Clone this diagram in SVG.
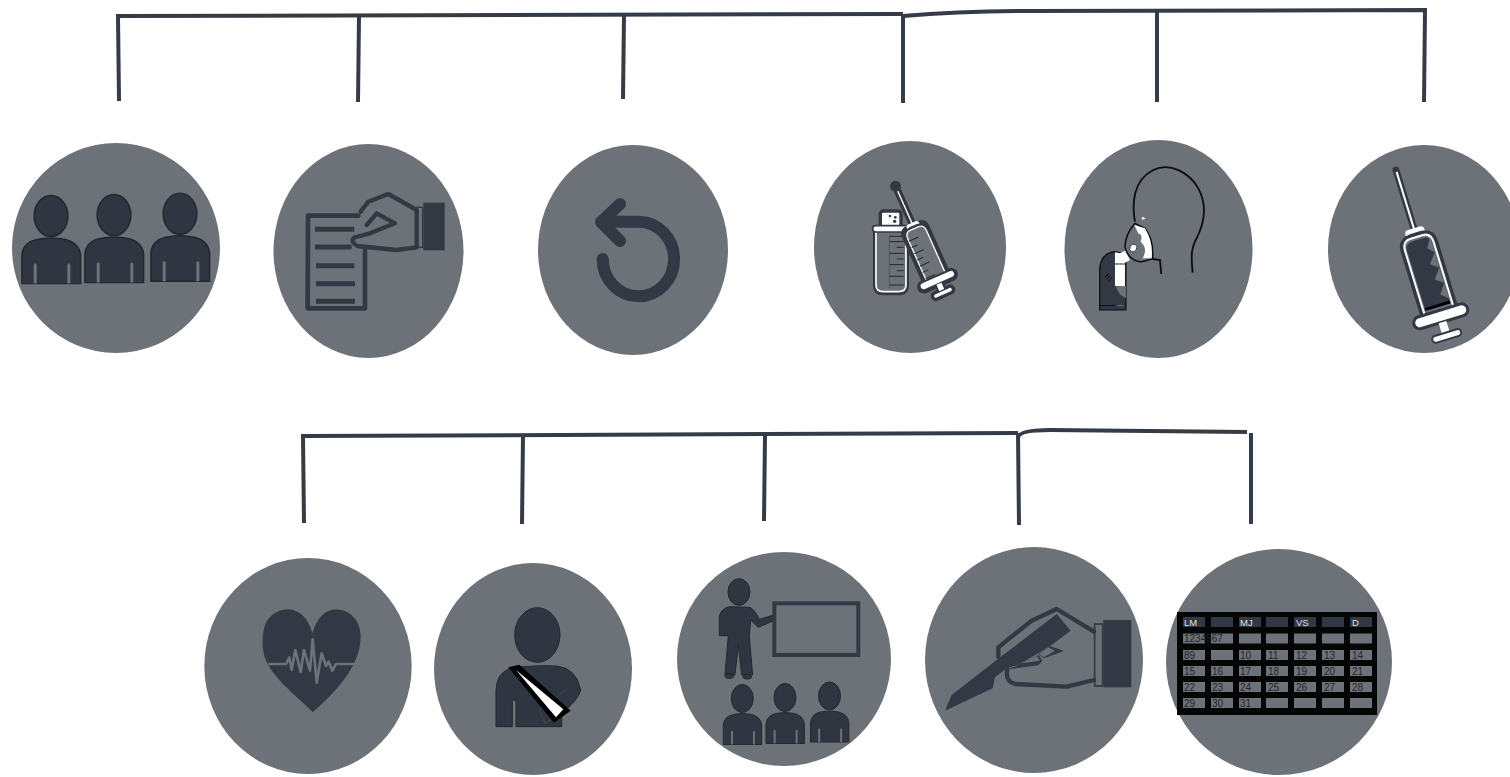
<svg xmlns="http://www.w3.org/2000/svg" width="1510" height="777" viewBox="0 0 1510 777">
<style>
.disc{fill:#6d7279}
.ln{fill:none;stroke:#363c47;stroke-width:4}
.d{fill:#323844}
.ds{fill:none;stroke:#323844;stroke-linejoin:round;stroke-linecap:round}
.pf{fill:#2f3541;stroke:#23272f;stroke-width:3}
.wt{fill:#fff}
.hd{fill:#323844}
.cl{fill:#6d7279}
text{font-family:"Liberation Sans",Arial,sans-serif;font-size:10px;fill:#1f2228}
.hdt{fill:#dfe1e3;font-size:9.5px}
</style>
<defs>
<g id="person">
<ellipse cx="0" cy="0" rx="33" ry="42" class="pf"/>
<path class="pf" d="M-57,138 L-57,80 Q-55,52 -22,47 Q0,43 22,47 Q55,52 58,80 L58,138 Z"/>
<path d="M-34,138V100Q-31,93 -28,100V138ZM32,138V100Q35,93 38,100V138Z" fill="#6d7279"/>
</g>
<g id="syr">
<path d="M0,0V65" stroke="#323844" stroke-width="7" stroke-linecap="round"/>
<path d="M0,2V65" stroke="#fff" stroke-width="2"/>
<rect x="-10" y="61" width="20" height="9" rx="4" fill="#fff"/>
<path d="M-17,149V80Q-17,69 -6,68H6Q17,69 17,80V149Z" fill="#6d7279" stroke="#323844" stroke-width="5"/>
<path d="M-15,149V80Q-15,70 -6,70H6Q15,70 15,80V149" fill="none" stroke="#fff" stroke-width="2"/>
<rect x="-28" y="147" width="56" height="12" rx="6" fill="#fff" stroke="#323844" stroke-width="3"/>
<rect x="-4" y="159" width="8" height="13" fill="#fff"/>
<rect x="-15" y="170" width="30" height="7" rx="3.5" fill="#fff" stroke="#323844" stroke-width="2"/>
</g>
</defs>

<g id="connectors">
<path class="ln" d="M119,101L118,16L903,14"/>
<path class="ln" d="M359,16L358,102"/>
<path class="ln" d="M624,15L623,99"/>
<path class="ln" d="M903,14L903,103"/>
<path class="ln" d="M903,16Q960,11 1030,11L1425,10L1424,102"/>
<path class="ln" d="M1157,12L1157,102"/>
<path class="ln" d="M304,523L303,436L1018,433"/>
<path class="ln" d="M523,436L522,524"/>
<path class="ln" d="M765,435L764,521"/>
<path class="ln" d="M1018,433L1019,525"/>
<path class="ln" d="M1018,438Q1018,430 1050,430L1247,432"/>
<path class="ln" d="M1251,433L1251,524"/>
</g>

<g id="node-group-people">
<ellipse class="disc" cx="116" cy="248" rx="104" ry="105"/>
<use href="#person" transform="translate(51,216) scale(.51,.49)"/>
<use href="#person" transform="translate(114,215) scale(.51,.49)"/>
<use href="#person" transform="translate(180,213.700) scale(.51,.49)"/>
</g>

<g id="node-document">
<ellipse class="disc" cx="368.500" cy="251" rx="95" ry="107"/>
<g transform="translate(270,170) scale(.3333)">
<path class="ds" stroke-width="14" d="M265,137L114,137L113,415L285,415L285,240"/>
<path class="ds" stroke-width="15" d="M135,178H253M135,231H245M138,287H253M138,341H255M138,394H255" style="stroke-linecap:butt"/>
<path class="ds" stroke-width="13" d="M272,125L295,95L355,72L440,120V232L380,240L262,228Q240,215 252,203L300,190L375,160L320,130L290,165"/>
<rect class="d" x="460" y="98" width="64" height="143"/>
<rect x="441" y="112" width="17" height="120" fill="none" stroke="#323844" stroke-width="4"/>
</g>
</g>

<g id="node-undo">
<ellipse class="disc" cx="633" cy="250" rx="95" ry="105"/>
<path class="ds" stroke-width="12" d="M602.700,259A35.700,37.300 0 1 0 638.300,221.700H601M620,204L601,222L620,241"/>
</g>

<g id="node-vial-syringe">
<ellipse class="disc" cx="910" cy="247" rx="96" ry="106"/>
<g transform="translate(800,160) scale(.3333)">
<rect class="d" x="236" y="148" width="72" height="70" rx="14"/>
<rect class="wt" x="246" y="158" width="52" height="42" rx="4"/>
<circle class="d" cx="270" cy="168" r="4"/><circle class="d" cx="286" cy="172" r="4"/><circle class="d" cx="284" cy="184" r="5"/>
<path d="M228,215V375Q228,397 250,397H295Q318,397 318,375V215" fill="#6d7279" stroke="#323844" stroke-width="18"/>
<path d="M228,215V375Q228,395 250,395H295Q318,395 318,375V215" fill="#6d7279" stroke="#fff" stroke-width="5"/>
<path d="M268,229H313M268,245H311M290,262H311M268,280H311M290,297H311M268,314H311M290,332H311M268,349H311M268,375H311" stroke="#23272f" stroke-width="3"/>
<path d="M268,229V385" stroke="#43495a" stroke-width="2"/>
<rect x="218" y="197" width="110" height="19" rx="9" fill="#fff" stroke="#323844" stroke-width="5"/>
<g transform="translate(285,75) rotate(-24) scale(2.04)">
<path d="M0,0V65" stroke="#323844" stroke-width="11" stroke-linecap="round"/>
<rect class="d" x="-22" y="62" width="44" height="92" rx="12"/>
<rect class="d" x="-32" y="144" width="64" height="20" rx="10"/>
<rect class="d" x="-7" y="158" width="14" height="16"/>
<rect class="d" x="-19" y="166" width="38" height="15" rx="7"/>
<use href="#syr"/>
<path d="M0,84H-15M-6,94H-15M0,104H-15M-6,114H-15M0,124H-15M-6,134H-15M0,144H-15" stroke="#23272f" stroke-width="1.500"/>
<circle class="d" cx="0" cy="2" r="8"/>
</g>
</g>
</g>

<g id="node-mask">
<ellipse class="disc" cx="1158.500" cy="249" rx="94" ry="109"/>
<g transform="translate(800,160) scale(.3333)">
<path fill="none" stroke="#0c0d10" stroke-width="5.500" d="M1005,185C995,130 1000,60 1060,30C1110,5 1170,40 1195,85C1225,140 1210,195 1190,235C1170,270 1175,300 1178,338"/>
<path fill="none" stroke="#0c0d10" stroke-width="5.500" d="M1058,297L1080,300L1084,342"/>
<path d="M1026,170L1037,175L1026,180Z" fill="#fff"/>
<path d="M1005,190Q975,225 975,262Q985,300 1022,306L1058,297Q1062,240 1035,205Z" fill="#6d7279" stroke="#0c0d10" stroke-width="4.500"/>
<path d="M1003,195L1035,205Q1060,245 1055,295L1028,295Q1045,265 1022,245Q1030,225 1015,220Z" fill="#fff"/>
<ellipse cx="1000" cy="264" rx="10" ry="12" fill="#fff" stroke="#0c0d10" stroke-width="2" transform="rotate(30 1000 264)"/>
<path d="M899,450V330Q900,280 945,275L978,282V450Z" fill="#323844" stroke="#0c0d10" stroke-width="3.500"/>
<path d="M945,277L975,283V378H945Z" fill="#fff"/>
<path d="M960,280L975,272L990,300L975,308Z" fill="#fff"/>
<path d="M945,312H975" stroke="#23272f" stroke-width="3"/>
<path d="M948,378H978V415Q955,405 948,378Z" fill="#6d7279"/>
<path d="M915,352L925,340M920,358L930,346M925,364L935,352" stroke="#0c0d10" stroke-width="3"/>
<path d="M900,437H945" stroke="#0c0d10" stroke-width="3"/>
<path d="M952,437H970" stroke="#6d7279" stroke-width="3"/>
</g>
</g>

<g id="node-syringe">
<ellipse class="disc" cx="1424" cy="249" rx="96" ry="104"/>
<g transform="translate(1396,170) rotate(-17)">
<use href="#syr"/>
<path d="M-13,142V80Q-13,73 -4,73L9,73Q13,75 13,82V142Z" class="d"/>
<path d="M-13,142H13" stroke="#000" stroke-width="3"/>
<path d="M13,74L7,84L13,90L5,100L13,106L5,116L13,122L6,132L13,138Z" fill="#6d7279"/>
</g>
</g>

<g id="node-heart">
<ellipse class="disc" cx="308" cy="666" rx="103.700" ry="108"/>
<g transform="translate(200,550) scale(.3333)">
<path class="d" d="M338,487C300,445 220,390 195,325C185,290 185,260 195,225C210,190 240,178 265,178C300,180 325,205 337,250C350,205 375,178 408,178C450,180 482,210 482,260C482,340 420,415 338,487Z"/>
<path fill="none" stroke="#6d7279" stroke-width="8" stroke-linejoin="round" d="M205,342H258L268,322L275,360L286,300L302,366L312,300L330,362L338,268L350,398L365,310L378,348L386,335L397,362L408,342H466"/>
</g>
</g>

<g id="node-sling">
<ellipse class="disc" cx="533" cy="669" rx="99" ry="106"/>
<g transform="translate(480,590) scale(.3333)">
<ellipse class="pf" cx="172" cy="135" rx="68" ry="82"/>
<path class="pf" d="M48,410V300Q50,250 90,235Q150,225 230,228Q290,235 302,300Q295,330 245,370V410H108V335Q100,325 97,335V410Z"/>
<path d="M178,360L255,302M178,360L195,400L245,370" fill="none" stroke="#4a505c" stroke-width="2"/>
<polygon points="85,232 118,224 272,362 222,398" fill="#000"/>
<polygon points="108,240 250,358 228,382" fill="#fff"/>
</g>
</g>

<g id="node-teacher">
<ellipse class="disc" cx="784" cy="659" rx="107" ry="107"/>
<g transform="translate(480,590) scale(.3333)">
<ellipse class="pf" cx="777" cy="6" rx="33" ry="40"/>
<path class="pf" d="M718,137V80Q722,55 750,50L810,52Q825,60 838,88L882,75L885,90L835,112L812,90L808,137L818,255H785L775,165L765,255H735L745,137Z"/>
<ellipse class="pf" cx="748" cy="258" rx="13" ry="7"/><ellipse class="pf" cx="802" cy="260" rx="13" ry="7"/>
<rect x="883" y="40" width="252" height="155" fill="none" stroke="#323844" stroke-width="12"/>
</g>
<use href="#person" transform="translate(742.300,698.500) scale(.3333)"/>
<use href="#person" transform="translate(785,697.500) scale(.3333)"/>
<use href="#person" transform="translate(829.500,696) scale(.3333)"/>
</g>

<g id="node-scalpel">
<ellipse class="disc" cx="1034" cy="660" rx="109" ry="113"/>
<g transform="translate(920,590) scale(.3333)">
<path class="ds" stroke-width="13" d="M235,200V172L335,92L410,57L522,125"/>
<path class="ds" stroke-width="13" d="M522,270L440,290L285,282Q255,275 262,238"/>
<polygon class="d" points="75,362 95,315 230,210 410,72 452,122 395,165 300,222 260,235 225,262 218,295"/>
<polygon class="d" points="355,192 390,168 432,183 372,205"/>
<polygon class="d" points="300,222 355,195 368,212 355,226 265,238"/>
<polygon class="disc" points="358,192 385,172 405,182 372,202"/>
<polygon class="disc" points="305,220 350,198 360,212"/>
<rect class="d" x="550" y="90" width="84" height="202"/>
<rect x="524" y="102" width="24" height="186" fill="none" stroke="#323844" stroke-width="5"/>
</g>
</g>

<g id="node-calendar">
<ellipse class="disc" cx="1279" cy="662" rx="113" ry="113"/>
<rect x="1177" y="612" width="200" height="103" fill="#050505"/>
<g class="hd">
<rect x="1183" y="617" width="22" height="10"/><rect x="1211" y="617" width="22" height="10"/><rect x="1239" y="617" width="22" height="10"/><rect x="1266" y="617" width="22" height="10"/><rect x="1294" y="617" width="22" height="10"/><rect x="1322" y="617" width="22" height="10"/><rect x="1350" y="617" width="22" height="10"/>
</g>
<g class="cl">
<rect x="1183" y="633.500" width="22" height="10"/><rect x="1211" y="633.500" width="22" height="10"/><rect x="1239" y="633.500" width="22" height="10"/><rect x="1266" y="633.500" width="22" height="10"/><rect x="1294" y="633.500" width="22" height="10"/><rect x="1322" y="633.500" width="22" height="10"/><rect x="1350" y="633.500" width="22" height="10"/>
<rect x="1183" y="650" width="22" height="10"/><rect x="1211" y="650" width="22" height="10"/><rect x="1239" y="650" width="22" height="10"/><rect x="1266" y="650" width="22" height="10"/><rect x="1294" y="650" width="22" height="10"/><rect x="1322" y="650" width="22" height="10"/><rect x="1350" y="650" width="22" height="10"/>
<rect x="1183" y="666" width="22" height="10"/><rect x="1211" y="666" width="22" height="10"/><rect x="1239" y="666" width="22" height="10"/><rect x="1266" y="666" width="22" height="10"/><rect x="1294" y="666" width="22" height="10"/><rect x="1322" y="666" width="22" height="10"/><rect x="1350" y="666" width="22" height="10"/>
<rect x="1183" y="682" width="22" height="10"/><rect x="1211" y="682" width="22" height="10"/><rect x="1239" y="682" width="22" height="10"/><rect x="1266" y="682" width="22" height="10"/><rect x="1294" y="682" width="22" height="10"/><rect x="1322" y="682" width="22" height="10"/><rect x="1350" y="682" width="22" height="10"/>
<rect x="1183" y="698" width="22" height="10"/><rect x="1211" y="698" width="22" height="10"/><rect x="1239" y="698" width="22" height="10"/><rect x="1266" y="698" width="22" height="10"/><rect x="1294" y="698" width="22" height="10"/><rect x="1322" y="698" width="22" height="10"/><rect x="1350" y="698" width="22" height="10"/>
</g>
<text class="hdt" x="1184" y="625.500">LM</text><text class="hdt" x="1240" y="625.500">MJ</text><text class="hdt" x="1296" y="625.500">VS</text><text class="hdt" x="1352" y="625.500">D</text>
<text x="1184" y="642">1234567</text>
<text x="1184" y="658.500">89</text><text x="1240" y="658.500">10</text><text x="1268" y="658.500">11</text><text x="1296" y="658.500">12</text><text x="1324" y="658.500">13</text><text x="1352" y="658.500">14</text>
<text x="1184" y="674.500">15</text><text x="1212" y="674.500">16</text><text x="1240" y="674.500">17</text><text x="1268" y="674.500">18</text><text x="1296" y="674.500">19</text><text x="1324" y="674.500">20</text><text x="1352" y="674.500">21</text>
<text x="1184" y="690.500">22</text><text x="1212" y="690.500">23</text><text x="1240" y="690.500">24</text><text x="1268" y="690.500">25</text><text x="1296" y="690.500">26</text><text x="1324" y="690.500">27</text><text x="1352" y="690.500">28</text>
<text x="1184" y="706.500">29</text><text x="1212" y="706.500">30</text><text x="1240" y="706.500">31</text>
</g>
</svg>
